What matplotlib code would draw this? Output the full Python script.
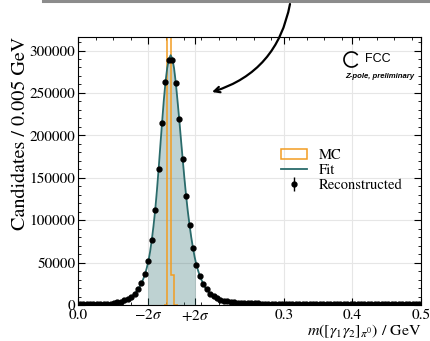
import numpy as np
import matplotlib
matplotlib.use('Agg')
import matplotlib.pyplot as plt
from matplotlib.patches import Patch, Arc
from matplotlib.lines import Line2D
from matplotlib.ticker import AutoMinorLocator, FixedLocator

plt.rcParams['font.family'] = ['STIXGeneral', 'DejaVu Serif']
plt.rcParams['mathtext.fontset'] = 'stix'

# binning of the reconstructed mass
bin_width = 0.005
n_bins = 100

# reconstructed candidates per bin
counts = [600, 650, 700, 750, 800, 900, 1000, 1150, 1400, 1750,
          2300, 3000, 4000, 5400, 7200, 9800, 13300, 18500, 26000, 36000,
          51500, 76500, 112000, 160500, 215000, 262500, 288500, 288500, 262000, 219000,
          172500, 129000, 94500, 67500, 47500, 34000, 25000, 18500, 13500, 10200,
          7800, 6200, 5100, 4300, 3700, 3200, 2900, 2600, 2400, 2200,
          2050, 1900, 1800, 1700, 1600, 1550, 1500, 1450, 1400, 1350,
          1300, 1280, 1250, 1220, 1200, 1180, 1150, 1120, 1100, 1080,
          1050, 1030, 1000, 980, 960, 940, 920, 900, 880, 860,
          840, 820, 800, 790, 770, 760, 740, 720, 710, 700,
          680, 670, 650, 640, 630, 620, 610, 600, 590, 580]

# fit curve around the peak (finer sampling)
fit_core_x = [0.0900, 0.0925, 0.0950, 0.0975, 0.1000, 0.1025, 0.1050, 0.1075, 0.1100, 0.1125,
              0.1150, 0.1175, 0.1200, 0.1225, 0.1250, 0.1275, 0.1300, 0.1325, 0.1350, 0.1375,
              0.1400, 0.1425, 0.1450, 0.1475, 0.1500, 0.1525, 0.1550, 0.1575, 0.1600, 0.1625,
              0.1650, 0.1675, 0.1700, 0.1725, 0.1750, 0.1775, 0.1800, 0.1825, 0.1850, 0.1875]
fit_core_y = [22000, 26000, 30500, 36000, 43000, 51500, 62500, 76500, 93000, 112000,
              135000, 160500, 188000, 215000, 241000, 263000, 279500, 290000, 294500, 290500,
              279000, 262000, 241000, 219000, 195500, 172500, 150000, 129000, 110500, 94500,
              80000, 67500, 56500, 47500, 40500, 34500, 29500, 25000, 21000, 18000]

# MC truth histogram (only non-empty region)
mc_edges = [0.125, 0.130, 0.135, 0.140, 0.145]
mc_counts = [0, 1900000, 35000, 0]

# +-2 sigma window
sig_lo = 0.1025
sig_hi = 0.1706

xtick_pos = [0.0, sig_lo, sig_hi, 0.3, 0.4, 0.5]
xtick_lab = ['0.0', r'$-2\sigma$', r'$+2\sigma$', '0.3', '0.4', '0.5']

teal = '#2a6b6b'
orange = '#f29d22'

edges = np.arange(n_bins + 1) * bin_width
centers = 0.5 * (edges[1:] + edges[:-1])
counts = np.array(counts, dtype=float)

tail = (centers < fit_core_x[0]) | (centers > fit_core_x[-1])
fit_x = np.concatenate([centers[tail], fit_core_x])
fit_y = np.concatenate([counts[tail], fit_core_y])
order = np.argsort(fit_x)
fit_x = fit_x[order]
fit_y = fit_y[order]

fig = plt.figure(figsize=(4.31, 3.41), dpi=100)
ax = fig.add_axes([0.181, 0.1056, 0.796, 0.786])

# shaded +-2 sigma region under the fit
fill = ax.fill_between(fit_x, 0, fit_y, color=teal, alpha=0.3, lw=0, zorder=1)
ax.set_xlim(0, 0.5)
ax.set_ylim(0, 316000)
clip = plt.Rectangle((sig_lo, 0), sig_hi - sig_lo, 1e7, transform=ax.transData)
fill.set_clip_path(clip)

ax.stairs(mc_counts, mc_edges, color=orange, lw=1.1, zorder=2)
ax.plot(fit_x, fit_y, color=teal, lw=1.3, zorder=3)
eb = ax.errorbar(centers, counts, yerr=np.sqrt(counts), fmt='o', color='black',
                 ms=3.5, elinewidth=1, capsize=0, zorder=4)

ax.xaxis.set_major_locator(FixedLocator(xtick_pos))
ax.set_xticklabels(xtick_lab)
ax.xaxis.set_minor_locator(AutoMinorLocator())
ax.yaxis.set_minor_locator(AutoMinorLocator())
ax.tick_params(which='both', direction='in', top=True, right=True, labelsize=11)
ax.tick_params(which='major', length=5, pad=2)
ax.tick_params(axis='x', which='major', pad=2.5)
ax.tick_params(which='minor', length=2.5)
ax.grid(True, which='major', color='#e6e6e6', lw=0.8)
ax.set_axisbelow(True)

ax.set_xlabel(r'$m([\gamma_1\gamma_2]_{\pi^0})$ / GeV', loc='right', fontsize=11.5, labelpad=-1)
ax.set_ylabel('Candidates / 0.005 GeV', loc='top', fontsize=14.5, labelpad=0)

handles = [Patch(facecolor='none', edgecolor=orange, lw=1.1),
           Line2D([], [], color=teal, lw=1.3),
           eb]
ax.legend(handles, ['MC', 'Fit', 'Reconstructed'], loc='upper right',
          bbox_to_anchor=(0.975, 0.62), frameon=False, fontsize=10.5,
          handlelength=1.8, labelspacing=0.1, borderpad=0.2)

# FCC logo
arc = Arc((3.515, 3.41 - 0.595), 0.15, 0.15, theta1=35, theta2=325, lw=1.2,
          color='black', transform=fig.dpi_scale_trans)
fig.add_artist(arc)
fig.text(3.65 / 4.31, (3.41 - 0.595) / 3.41, 'FCC', family='Liberation Sans',
         fontsize=9, va='center', ha='left')
fig.text(4.14 / 4.31, (3.41 - 0.77) / 3.41, 'Z-pole, preliminary', family='Liberation Sans',
         fontsize=5.6, fontweight='bold', style='italic', va='center', ha='right')

# grey bar at the top and the curved arrow
fig.add_artist(Line2D([0.1, 1.0], [0.996, 0.996], color='#8c8c8c', lw=2.2))
ax.annotate('', xy=(212 / 431, 1 - 92 / 341), xycoords='figure fraction',
            xytext=(290 / 431, 1 - 4 / 341), textcoords='figure fraction',
            arrowprops=dict(arrowstyle='->', lw=1.6, color='black',
                            connectionstyle='arc3,rad=-0.3', shrinkA=0, shrinkB=0))

fig.savefig('out.png', dpi=100)
